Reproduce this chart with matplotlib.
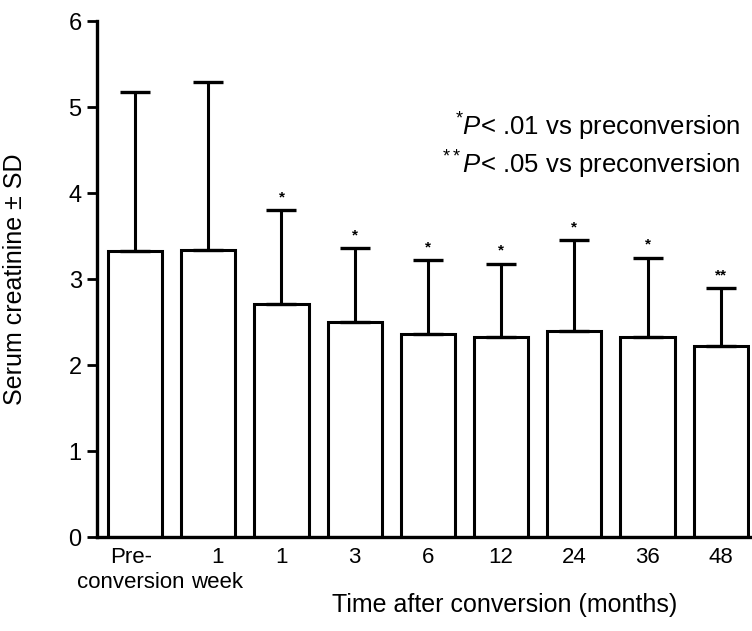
import matplotlib
matplotlib.use("Agg")
import matplotlib.pyplot as plt
import matplotlib.transforms as mtransforms
import numpy as np

plt.rcParams['font.family'] = ['Liberation Sans', 'DejaVu Sans']
plt.rcParams['mathtext.fontset'] = 'custom'
plt.rcParams['mathtext.rm'] = 'Liberation Sans'
plt.rcParams['mathtext.it'] = 'Liberation Sans:italic'

categories = ["Pre-\nconversion", "1\nweek", "1", "3", "6", "12", "24", "36", "48"]
means = [3.32, 3.34, 2.71, 2.50, 2.36, 2.32, 2.40, 2.32, 2.22]
sd = [1.86, 1.95, 1.09, 0.86, 0.86, 0.86, 1.05, 0.93, 0.67]
marks = ["", "", "*", "*", "*", "*", "*", "*", "**"]
yticks = [0, 1, 2, 3, 4, 5, 6]

fig = plt.figure(figsize=(7.52, 6.31), dpi=100)
ax = fig.add_axes([97/752, 1-537/631, 653/752, 516/631])

x = np.arange(len(categories))
ax.bar(x, means, width=0.74, color='white', edgecolor='black', linewidth=2.2, zorder=2)
ax.errorbar(x, means, yerr=[np.zeros(len(sd)), sd], fmt='none', ecolor='black',
            elinewidth=2.2, capsize=10.5, capthick=2.4, zorder=3)
for xi, m, s, t in zip(x, means, sd, marks):
    if t:
        ax.text(xi, m + s + 0.07, t, ha='center', va='bottom', fontsize=11, fontweight='bold')

ax.set_xlim(-0.52, 8.4)
ax.set_ylim(0, 6)
ax.set_yticks(yticks)
ax.set_yticklabels([str(v) for v in yticks], fontsize=17)
ax.set_xticks(x)
labels = ax.set_xticklabels(categories, fontsize=16, linespacing=1.25)
ax.tick_params(axis='x', length=0, pad=7)
ax.tick_params(axis='y', length=7, width=2, pad=4)
# nudge the two-line labels apart so "conversion" and "week" do not touch
left = mtransforms.ScaledTranslation(-4/100, 0, fig.dpi_scale_trans)
right = mtransforms.ScaledTranslation(9/100, 0, fig.dpi_scale_trans)
labels[0].set_transform(labels[0].get_transform() + left)
labels[1].set_transform(labels[1].get_transform() + right)
for s in ['top', 'right']:
    ax.spines[s].set_visible(False)
for s in ['left', 'bottom']:
    ax.spines[s].set_linewidth(2.4)

ax.set_ylabel("Serum creatinine \u00b1 SD", fontsize=18)
ax.yaxis.set_label_coords((27-97)/653, 0.5)
fig.text(505/752, 1-605/631, "Time after conversion (months)", ha='center', va='center', fontsize=18)

fig.text(740/752, 1-127/631, r"$^{*}\mathit{P}$< .01 vs preconversion", ha='right', va='center', fontsize=18.5)
fig.text(740/752, 1-165/631, r"$^{**}\mathit{P}$< .05 vs preconversion", ha='right', va='center', fontsize=18.5)

fig.savefig("out.png", dpi=100)
